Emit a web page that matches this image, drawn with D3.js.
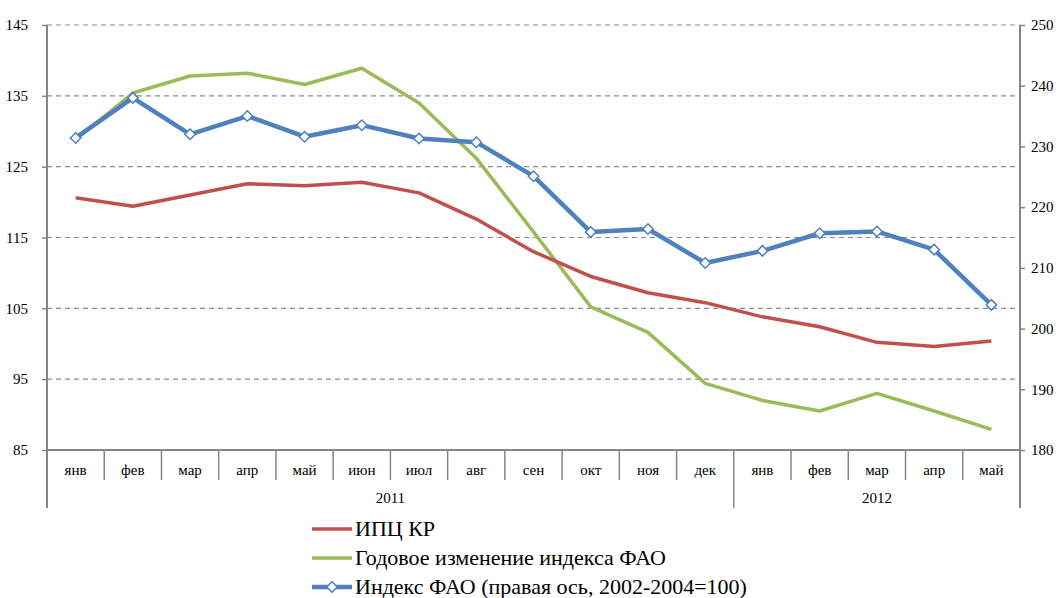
<!DOCTYPE html>
<html>
<head>
<meta charset="utf-8">
<script src="https://cdn.jsdelivr.net/npm/d3@7"></script>
<style>
  body { margin: 0; background: #fff; font-family: "Liberation Serif"; }
  #chart text { font-family: "Liberation Serif"; }
</style>
</head>
<body>
<svg id="chart" width="1060" height="598" font-family="Liberation Serif" style="font-family:'Liberation Serif'; display:block"></svg>
<script>
// categories
var months = ["янв", "фев", "мар", "апр", "май", "июн", "июл", "авг", "сен", "окт", "ноя", "дек",
              "янв", "фев", "мар", "апр", "май"];
var years = [{ label: "2011", from: 0, to: 12 }, { label: "2012", from: 12, to: 17 }];

// series values
var cpi = [120.6, 119.4, 121.0, 122.6, 122.3, 122.8, 121.3, 117.6, 113.0, 109.5, 107.2, 105.8,
           103.8, 102.4, 100.2, 99.6, 100.4];
var faoChange = [128.8, 135.4, 137.8, 138.2, 136.6, 138.9, 134.0, 126.2, 115.8, 105.2, 101.6, 94.4,
                 92.0, 90.5, 93.0, 90.5, 87.9];
var faoIndex = [231.4, 238.0, 232.0, 235.0, 231.6, 233.5, 231.3, 230.7, 225.1, 215.9, 216.4, 210.8,
                212.8, 215.7, 216.0, 213.0, 203.9];

// tick labels
var leftTicks = [85, 95, 105, 115, 125, 135, 145];
var rightTicks = [180, 190, 200, 210, 220, 230, 240, 250];

var legendNames = ["ИПЦ КР", "Годовое изменение индекса ФАО", "Индекс ФАО (правая ось, 2002-2004=100)"];

var FONT = "Liberation Serif";

var W = 1060, H = 598;
var margin = { top: 25, right: 40, bottom: 148, left: 47 },
    width = W - margin.left - margin.right,
    height = H - margin.top - margin.bottom;

var svg = d3.select("#chart");
var g = svg.append("g")
    .attr("transform", "translate(" + margin.left + "," + margin.top + ")");

var idx = d3.range(months.length);
var x = d3.scaleBand().domain(idx).range([0, width]);
var yL = d3.scaleLinear().domain([85, 145]).range([height, 0]);
var yR = d3.scaleLinear().domain([180, 250]).range([height, 0]);

var axisColor = "#868686";

// gridlines
g.selectAll(".grid")
    .data(leftTicks.filter(function (d) { return d > 85; }))
    .enter().append("line")
    .attr("x1", 0).attr("x2", width)
    .attr("y1", function (d) { return yL(d); })
    .attr("y2", function (d) { return yL(d); })
    .attr("stroke", "#8c8c8c")
    .attr("stroke-width", 1.2)
    .attr("stroke-dasharray", "5 4");

// left axis
var leftAxis = g.append("g")
    .call(d3.axisLeft(yL).tickValues(leftTicks).tickSize(5).tickPadding(14))
    .attr("font-family", FONT).attr("font-size", 15);
leftAxis.select(".domain").remove();
leftAxis.selectAll("line").attr("stroke", axisColor).attr("stroke-width", 1.5);
leftAxis.selectAll("text").attr("font-family", FONT).attr("fill", "#000");
g.append("line").attr("x1", 0).attr("x2", 0).attr("y1", 0).attr("y2", height + 58)
    .attr("stroke", axisColor).attr("stroke-width", 2);

// right axis
var rightAxis = g.append("g")
    .attr("transform", "translate(" + width + ",0)")
    .call(d3.axisRight(yR).tickValues(rightTicks).tickSize(5).tickPadding(6))
    .attr("font-family", FONT).attr("font-size", 15);
rightAxis.select(".domain").remove();
rightAxis.selectAll("line").attr("stroke", axisColor).attr("stroke-width", 1.5);
rightAxis.selectAll("text").attr("font-family", FONT).attr("fill", "#000");
g.append("line").attr("x1", width).attr("x2", width).attr("y1", 0).attr("y2", height + 58)
    .attr("stroke", axisColor).attr("stroke-width", 2);

// bottom axis
g.append("line").attr("x1", 0).attr("x2", width).attr("y1", height).attr("y2", height)
    .attr("stroke", axisColor).attr("stroke-width", 2);
g.selectAll(".mdiv")
    .data(idx.slice(1))
    .enter().append("line")
    .attr("x1", function (d) { return x(d); })
    .attr("x2", function (d) { return x(d); })
    .attr("y1", height)
    .attr("y2", function (d) { return d === 12 ? height + 58 : height + 30; })
    .attr("stroke", axisColor).attr("stroke-width", 1.5);
g.selectAll(".mlab")
    .data(idx)
    .enter().append("text")
    .attr("x", function (d) { return x(d) + x.bandwidth() / 2; })
    .attr("y", height + 25)
    .attr("text-anchor", "middle")
    .attr("font-family", FONT)
    .attr("font-size", 15)
    .text(function (d) { return months[d]; });
g.selectAll(".ylab")
    .data(years)
    .enter().append("text")
    .attr("x", function (d) { return (x(d.from) + x(d.to - 1) + x.bandwidth()) / 2; })
    .attr("y", height + 53)
    .attr("text-anchor", "middle")
    .attr("font-family", FONT)
    .attr("font-size", 15)
    .text(function (d) { return d.label; });

// lines
var cx = function (i) { return x(i) + x.bandwidth() / 2; };
var lineL = d3.line().x(function (d, i) { return cx(i); }).y(function (d) { return yL(d); });
var lineR = d3.line().x(function (d, i) { return cx(i); }).y(function (d) { return yR(d); });

var colors = ["#C0504D", "#9BBB59", "#4F81BD"];

g.append("path").datum(faoChange).attr("d", lineL)
    .attr("fill", "none").attr("stroke", colors[1]).attr("stroke-width", 3.5)
    .attr("stroke-linejoin", "round");
g.append("path").datum(cpi).attr("d", lineL)
    .attr("fill", "none").attr("stroke", colors[0]).attr("stroke-width", 3.5)
    .attr("stroke-linejoin", "round");
g.append("path").datum(faoIndex).attr("d", lineR)
    .attr("fill", "none").attr("stroke", colors[2]).attr("stroke-width", 4.5)
    .attr("stroke-linejoin", "round");

var diamond = d3.symbol().type(d3.symbolDiamond2).size(70);
g.selectAll(".mk")
    .data(faoIndex)
    .enter().append("path")
    .attr("d", diamond)
    .attr("transform", function (d, i) { return "translate(" + cx(i) + "," + yR(d) + ")"; })
    .attr("fill", "#fff")
    .attr("stroke", colors[2])
    .attr("stroke-width", 1.5);

// legend
var legend = svg.append("g").attr("transform", "translate(312,529)");
legendNames.forEach(function (name, i) {
    var row = legend.append("g").attr("transform", "translate(0," + (i * 29) + ")");
    row.append("line").attr("x1", 0).attr("x2", 40).attr("y1", 0).attr("y2", 0)
        .attr("stroke", colors[i]).attr("stroke-width", i === 2 ? 4.5 : 3.5);
    if (i === 2) {
        row.append("path").attr("d", diamond).attr("transform", "translate(20,0)")
            .attr("fill", "#fff").attr("stroke", colors[2]).attr("stroke-width", 1.5);
    }
    row.append("text").attr("x", 43).attr("y", 7)
        .attr("font-family", FONT)
        .attr("font-size", 22).text(name);
});
</script>
</body>
</html>
